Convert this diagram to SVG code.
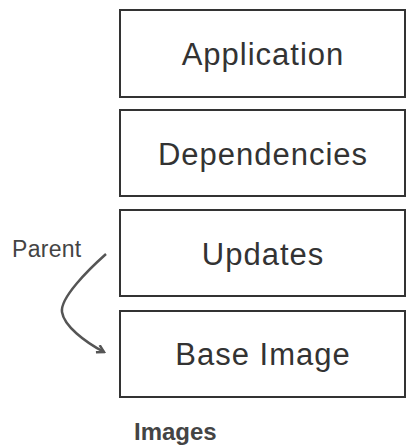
<svg xmlns="http://www.w3.org/2000/svg" width="408" height="447" viewBox="0 0 408 447">
  <defs>
    <style>
      .layer rect { fill: #fff; stroke: #333; stroke-width: 2; }
      .layer text { font-family: "Liberation Sans", Arial, sans-serif; font-size: 31px; letter-spacing: 1px; fill: #333; text-anchor: middle; }
      .label { font-family: "Liberation Sans", Arial, sans-serif; fill: #444; }
      .link { fill: none; stroke: #555; stroke-width: 2.5; }
    </style>
    <marker id="head" markerWidth="10" markerHeight="10" refX="8" refY="5" orient="auto" markerUnits="userSpaceOnUse">
      <path d="M1,1 L8,5 L1,9" fill="none" stroke="#555" stroke-width="2.5"/>
    </marker>
  </defs>
  <rect width="408" height="447" fill="#fff"/>

  <g id="application" class="layer">
    <rect x="120" y="10" width="285" height="87"/>
    <text x="263" y="65">Application</text>
  </g>
  <g id="dependencies" class="layer">
    <rect x="120" y="110" width="285" height="86"/>
    <text x="263" y="165">Dependencies</text>
  </g>
  <g id="updates" class="layer">
    <rect x="120" y="210" width="285" height="86"/>
    <text x="263" y="265">Updates</text>
  </g>
  <g id="base-image" class="layer">
    <rect x="120" y="311" width="285" height="86"/>
    <text x="263" y="365">Base Image</text>
  </g>

  <g id="connectors">
    <path class="link" d="M106,254 C88,270 60,298 62,312 C64,326 85,342 104,352" marker-end="url(#head)"/>
  </g>

  <text class="label" x="12" y="257" font-size="23" letter-spacing="0.3">Parent</text>
  <text class="label" x="134" y="440" font-size="24" font-weight="bold" fill="#222">Images</text>
</svg>
